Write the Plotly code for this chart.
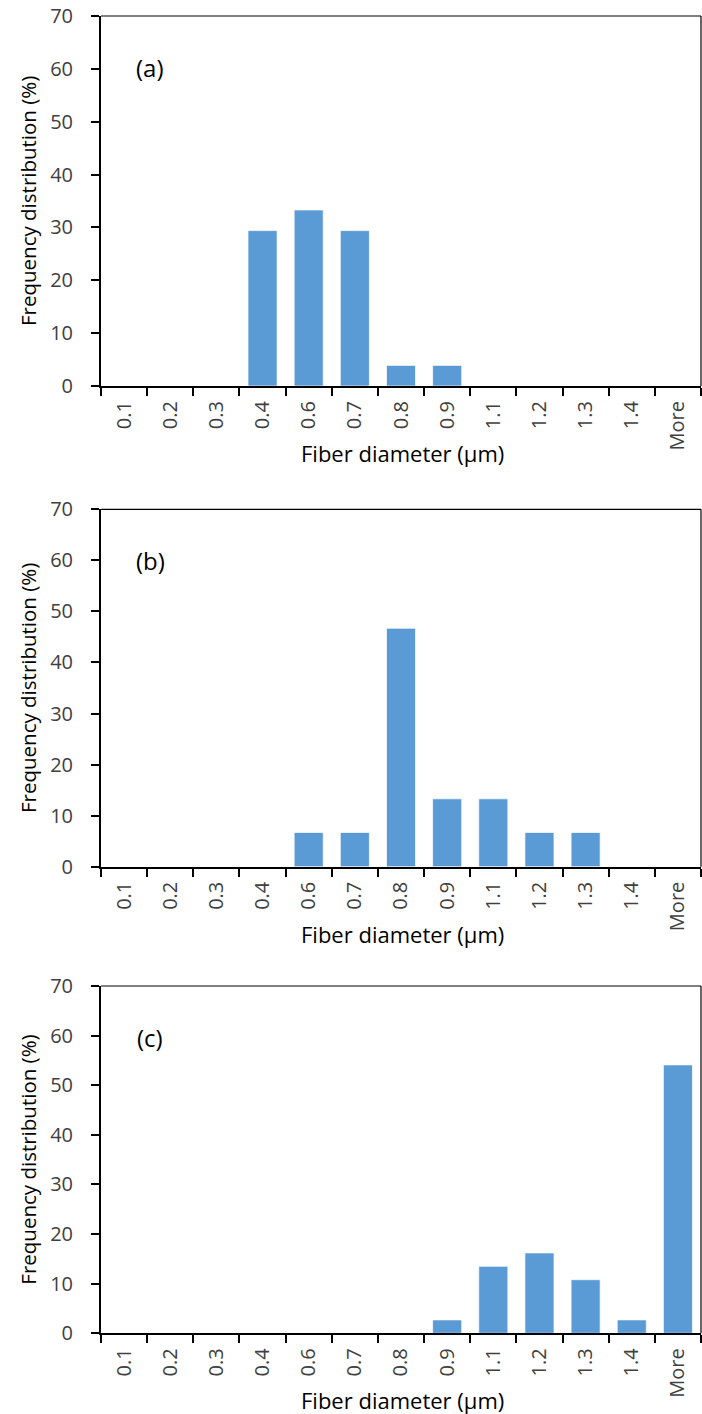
import plotly.graph_objects as go

categories = ["0.1", "0.2", "0.3", "0.4", "0.6", "0.7", "0.8", "0.9", "1.1", "1.2", "1.3", "1.4", "More"]
freq_a = [0, 0, 0, 29.4, 33.3, 29.4, 3.9, 3.9, 0, 0, 0, 0, 0]
freq_b = [0, 0, 0, 0, 6.7, 6.7, 46.7, 13.3, 13.3, 6.7, 6.7, 0, 0]
freq_c = [0, 0, 0, 0, 0, 0, 0, 2.7, 13.5, 16.2, 10.8, 2.7, 54.1]
panel_labels = ["(a)", "(b)", "(c)"]
y_ticks = [0, 10, 20, 30, 40, 50, 60, 70]

W, H = 702, 1414
FONT = "Open Sans"
BAR = "#5B9BD5"

# pixel boxes (top, bottom) for each panel
boxes = [(16, 386), (509.3, 866.7), (986, 1333.3)]
x_left, x_right = 101, 701

fig = go.Figure()
series = [freq_a, freq_b, freq_c]
for i, vals in enumerate(series):
    n = "" if i == 0 else str(i + 1)
    fig.add_trace(go.Bar(
        x=categories, y=vals, xaxis="x" + n, yaxis="y" + n,
        marker=dict(color=BAR, line=dict(color="rgba(255,255,255,0.7)", width=1)),
        width=0.63, showlegend=False,
    ))

layout = dict(
    width=W, height=H,
    margin=dict(l=0, r=0, t=0, b=0),
    paper_bgcolor="white", plot_bgcolor="white",
    font=dict(family=FONT, color="#404040", size=20),
    showlegend=False,
)
annotations = []
shapes = []
for i, (top, bot) in enumerate(boxes):
    n = "" if i == 0 else str(i + 1)
    dom_y = [1 - bot / H, 1 - top / H]
    dom_x = [x_left / W, x_right / W]
    layout["xaxis" + n] = dict(
        domain=dom_x, anchor="y" + n, type="category",
        categoryorder="array", categoryarray=categories,
        range=[-0.5, 12.5], tickangle=-90, tickson="boundaries",
        ticks="outside", ticklen=8, tickwidth=1.5, tickcolor="black",
        showline=True, linecolor="black", linewidth=2,
        showgrid=False, zeroline=False, fixedrange=True,
        tickfont=dict(family=FONT, size=20, color="#404040"),
        ticklabelstandoff=5, automargin=False,
    )
    layout["yaxis" + n] = dict(
        domain=dom_y, anchor="x" + n, range=[0, 70],
        tickvals=y_ticks, ticks="outside", ticklen=8, tickwidth=1.5,
        tickcolor="black", showline=True, linecolor="black", linewidth=2,
        showgrid=False, zeroline=False, fixedrange=True,
        tickfont=dict(family=FONT, size=20, color="#404040"),
        ticklabelstandoff=14, automargin=False,
    )
    # top and right border (thin)
    shapes.append(dict(type="line", xref="paper", yref="paper",
                       x0=x_left / W, x1=x_right / W, y0=1 - top / H, y1=1 - top / H,
                       line=dict(color="black", width=1.2)))
    shapes.append(dict(type="line", xref="paper", yref="paper",
                       x0=x_right / W, x1=x_right / W, y0=1 - top / H, y1=1 - bot / H,
                       line=dict(color="black", width=1.2)))
    # y-axis title
    annotations.append(dict(text="Frequency distribution (%)", xref="paper", yref="paper",
                            x=28 / W, y=1 - (top + (bot - top) * 0.5) / H,
                            textangle=-90, showarrow=False, xanchor="center", yanchor="middle",
                            font=dict(family=FONT, size=20.5, color="black")))
    # x-axis title
    annotations.append(dict(text="Fiber diameter (µm)", xref="paper", yref="paper",
                            x=402 / W, y=1 - (bot + 67) / H,
                            showarrow=False, xanchor="center", yanchor="middle",
                            font=dict(family=FONT, size=22, color="black")))
    # panel label
    annotations.append(dict(text=panel_labels[i], xref="paper", yref="paper",
                            x=150 / W, y=1 - (top + 51) / H,
                            showarrow=False, xanchor="center", yanchor="middle",
                            font=dict(family=FONT, size=24, color="black")))

layout["annotations"] = annotations
layout["shapes"] = shapes
fig.update_layout(**layout)
fig.write_html("out.html")
